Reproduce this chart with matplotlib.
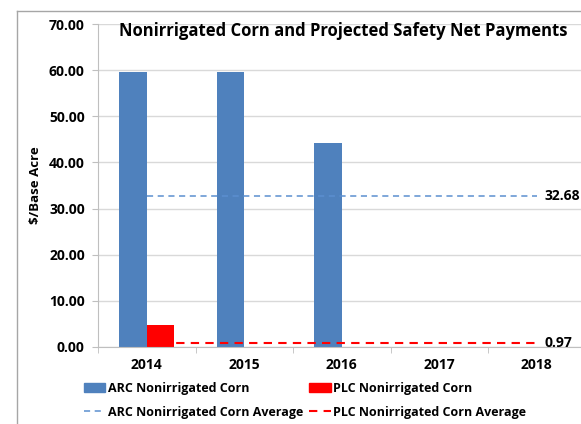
import matplotlib
matplotlib.use("Agg")
import matplotlib.pyplot as plt
from matplotlib.lines import Line2D
from matplotlib.patches import Patch

plt.rcParams['font.family'] = ['Open Sans', 'DejaVu Sans']
plt.rcParams['font.weight'] = 'bold'

years = ['2014', '2015', '2016', '2017', '2018']
arc = [59.55, 59.55, 44.30, 0.0, 0.0]
plc = [4.85, 0.0, 0.0, 0.0, 0.0]
arc_avg = 32.68
plc_avg = 0.97

blue = '#4F81BD'
red = '#FF0000'
arc_line = '#5B8FD0'

fig = plt.figure(figsize=(5.81, 4.24), dpi=100)
ax = fig.add_axes([98 / 581, 77 / 424, 487.5 / 581, 323 / 424])

x = list(range(len(years)))
w = 0.28
ax.bar([i - w / 2 for i in x], arc, width=w, color=blue, zorder=2)
ax.bar([i + w / 2 for i in x], plc, width=w, color=red, zorder=2)
ax.plot(x, [arc_avg] * len(x), ls=(0, (4, 3)), color=arc_line, lw=1.1, zorder=3)
ax.plot(x, [plc_avg] * len(x), ls=(0, (4, 3)), color=red, lw=1.5, zorder=3)
ax.text(x[-1] + 0.08, arc_avg, f'{arc_avg:.2f}', va='center', ha='left', fontsize=10, fontweight='bold')
ax.text(x[-1] + 0.08, plc_avg, f'{plc_avg:.2f}', va='center', ha='left', fontsize=10, fontweight='bold')

ax.set_xlim(-0.5, 4.5)
ax.set_ylim(0, 70)
ax.set_yticks(range(0, 71, 10))
ax.set_yticklabels([f'{v:.2f}' for v in range(0, 71, 10)], fontsize=10, fontweight='bold')
ax.set_xticks(x)
ax.set_xticklabels(years, fontsize=10, fontweight='bold')
ax.set_xticks([i - 0.5 for i in range(6)], minor=True)
ax.tick_params(axis='x', which='major', length=0, pad=8)
ax.tick_params(axis='x', which='minor', length=4, color='#bfbfbf')
ax.tick_params(axis='y', length=4, color='#bfbfbf', pad=5.5)
ax.grid(axis='y', color='#d9d9d9', lw=1, zorder=0)
for s in ['top', 'right']:
    ax.spines[s].set_visible(False)
for s in ['left', 'bottom']:
    ax.spines[s].set_color('#bfbfbf')
ax.set_ylabel('$/Base Acre', fontsize=9.5, fontweight='bold', labelpad=5)

fig.text(343 / 581, 1 - 31 / 424, 'Nonirrigated Corn and Projected Safety Net Payments',
         ha='center', va='center', fontsize=12, fontweight='bold')

handles = [Patch(color=blue), Line2D([], [], color=arc_line, ls=(0, (4, 3)), lw=1.1),
           Patch(color=red), Line2D([], [], color=red, ls=(0, (4, 3)), lw=1.5)]
labels = ['ARC Nonirrigated Corn', 'ARC Nonirrigated Corn Average',
          'PLC Nonirrigated Corn', 'PLC Nonirrigated Corn Average']
fig.legend(handles, labels, ncol=2, loc='upper left', bbox_to_anchor=(84 / 581, 1 - 382 / 424),
           frameon=False, fontsize=9, handlelength=1.7, handletextpad=0.2,
           columnspacing=0.5, labelspacing=0.85, borderaxespad=0, borderpad=0)

# outer chart frame (cropped)
fig.add_artist(Line2D([17 / 581, 17 / 581], [0, 1 - 11 / 424], transform=fig.transFigure, color='#a6a6a6', lw=1))
fig.add_artist(Line2D([17 / 581, 1], [1 - 11 / 424, 1 - 11 / 424], transform=fig.transFigure, color='#a6a6a6', lw=1))

fig.savefig('out.png', dpi=100)
